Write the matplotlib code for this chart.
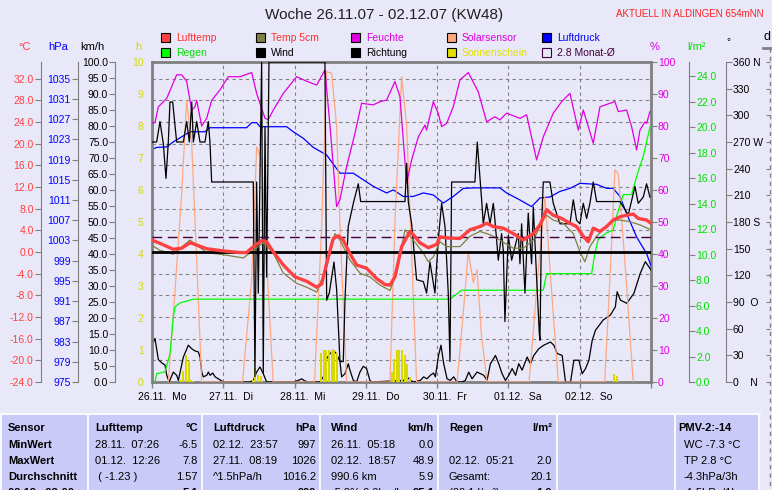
import matplotlib
matplotlib.use("Agg")
import matplotlib.pyplot as plt
import matplotlib.transforms as mtransforms
from matplotlib.patches import Rectangle
from matplotlib.lines import Line2D

plt.rcParams['font.family'] = ['Liberation Sans', 'DejaVu Sans']

BG = '#E8E8F8'
TABLE_BG = '#CACAF8'
GRAY = '#808080'
RED = '#FF4040'
OLIVE = '#808040'
MAGENTA = '#E000E0'
SALMON = '#FFA880'
BLUE = '#0000FF'
GREEN = '#00E000'
YELLOW = '#D8D800'
PURPLE = '#400040'

# ---- data, x = days since 26.11.07 00:00 ----
day_labels = ['26.11.  Mo', '27.11.  Di', '28.11.  Mi', '29.11.  Do',
              '30.11.  Fr', '01.12.  Sa', '02.12.  So']

temp_t = [0.0, 0.112, 0.299, 0.416, 0.533, 0.603, 0.767, 1.0, 1.234, 1.328, 1.421, 1.538, 1.608,
          1.702, 1.842, 2.006, 2.169, 2.31, 2.38, 2.45, 2.543, 2.613, 2.683, 2.777, 2.87, 3.011,
          3.151, 3.268, 3.338, 3.408, 3.502, 3.619, 3.665, 3.759, 3.876, 3.993, 4.04, 4.133, 4.32,
          4.46, 4.6, 4.694, 4.788, 4.928, 5.068, 5.208, 5.349, 5.442, 5.535, 5.629, 5.746, 5.863,
          5.956, 6.05, 6.12, 6.19, 6.284, 6.377, 6.47, 6.564, 6.658, 6.751, 6.821, 6.938, 7.0]
temp_v = [2.2, 1.6, 0.5, 0.7, 1.7, 1.4, 0.6, 0.2, -0.1, -0.1, 1.0, 2.1, 1.9, 0.0, -2.4, -4.6,
          -5.4, -6.5, -5.9, -2.1, 2.5, 3.0, 2.2, -0.3, -2.4, -3.0, -4.9, -6.0, -6.1, -4.6, 1.0,
          3.8, 3.2, 1.7, 0.8, 1.4, 2.8, 2.6, 2.5, 4.1, 4.7, 5.3, 4.7, 4.4, 3.4, 2.2, 3.4, 5.0,
          7.8, 6.8, 6.2, 5.3, 4.7, 2.9, 1.9, 4.4, 3.8, 4.7, 5.9, 6.5, 6.8, 7.0, 6.2, 5.9, 5.3]

temp5_t = [0.0, 0.112, 0.299, 0.533, 0.767, 1.0, 1.281, 1.421, 1.561, 1.702, 1.842, 2.029, 2.169,
           2.31, 2.45, 2.567, 2.637, 2.777, 2.917, 3.057, 3.198, 3.338, 3.432, 3.549, 3.665, 3.806,
           3.876, 3.946, 4.04, 4.133, 4.32, 4.46, 4.6, 4.741, 4.881, 5.068, 5.208, 5.349, 5.489,
           5.535, 5.629, 5.77, 5.91, 6.003, 6.073, 6.143, 6.237, 6.377, 6.47, 6.564, 6.704, 6.845, 7.0]
temp5_v = [1.2, 0.3, -0.4, 2.2, -0.1, -0.5, -1.1, 0.3, 1.7, -0.2, -3.9, -5.8, -6.5, -7.4, -2.8,
           3.4, 2.2, -1.5, -3.9, -4.6, -6.1, -7.1, -3.9, 4.1, 2.2, -0.2, -1.8, -0.9, 1.9, 1.0,
           1.0, 2.9, 3.8, 3.2, 2.2, 0.7, 0.7, 2.2, 5.9, 6.8, 5.9, 5.3, 3.4, 0.0, -1.8, 1.0, 2.9,
           4.7, 5.9, 5.9, 5.6, 5.0, 4.1]

month_avg = [2.8]

hum_t = [0.0, 0.042, 0.089, 0.206, 0.346, 0.416, 0.486, 0.557, 0.603, 0.627, 0.697, 0.767, 0.837,
         0.954, 1.07, 1.234, 1.398, 1.468, 1.585, 1.631, 1.702, 1.842, 2.029, 2.169, 2.31, 2.426,
         2.497, 2.59, 2.637, 2.73, 2.847, 2.94, 3.104, 3.198, 3.291, 3.408, 3.478, 3.572, 3.642,
         3.736, 3.829, 3.852, 3.946, 4.016, 4.063, 4.133, 4.226, 4.32, 4.437, 4.577, 4.694, 4.811,
         4.881, 4.974, 5.162, 5.255, 5.395, 5.489, 5.629, 5.746, 5.863, 5.98, 6.05, 6.19, 6.284,
         6.424, 6.494, 6.541, 6.658, 6.728, 6.798, 6.845, 6.915, 6.938, 6.985]
hum_v = [81, 81, 86, 88.6, 96, 96, 94, 85, 86, 88, 80, 82.4, 88, 91.3, 95.4, 95.4, 96.7, 90.2,
         82.4, 82, 85, 90.2, 95.4, 94, 92.8, 97.5, 80, 54.8, 57, 67.3, 77.7, 87.1, 86.6, 87.6,
         88.1, 93.9, 89.2, 62.1, 69.4, 76.6, 80.3, 78.7, 87.6, 83.9, 79.8, 80.8, 86, 94.4, 96.7,
         90.7, 81.3, 82.9, 81.9, 84, 82.4, 83.5, 69.4, 76.6, 84, 87.6, 90.2, 78.7, 85, 74.6, 86,
         87.1, 87.6, 84.5, 85, 79.8, 72.5, 78.7, 81.3, 80.8, 84.5]

solar_t = [0.229, 0.323, 0.416, 0.486, 0.557, 0.627, 0.697,
           1.27, 1.398, 1.468, 1.538, 1.608, 1.70,
           2.28, 2.38, 2.45, 2.52, 2.59, 2.637, 2.73,
           3.338, 3.408, 3.502, 3.572, 3.642, 3.712,
           4.28, 4.36, 4.437, 4.507, 4.56, 4.62, 4.70,
           5.29, 5.40, 5.512, 5.60, 5.70,
           6.35, 6.43, 6.494, 6.541, 6.658, 6.75]
solar_v = [0, 28.7, 58.8, 88, 74.5, 38, 0,
           0, 32, 73.5, 69.4, 38, 0,
           0, 48.5, 97, 96.5, 79.8, 48.5, 0,
           0, 50, 95.4, 80, 40, 0,
           0, 20, 40.7, 31, 35, 15, 0,
           0, 30, 58, 30, 0,
           0, 35, 66.3, 65, 30, 0]

press_t = [0.0, 0.065, 0.206, 0.299, 0.416, 0.533, 0.743, 0.813, 1.328, 1.398, 1.468, 1.515,
           1.889, 1.982, 2.123, 2.263, 2.45, 2.637, 2.824, 2.964, 3.104, 3.291, 3.385, 3.525,
           3.665, 3.806, 3.946, 4.086, 4.226, 4.367, 4.507, 4.881, 4.974, 5.162, 5.325, 5.442,
           5.582, 5.723, 5.863, 6.003, 6.237, 6.377, 6.47, 6.564, 6.658, 6.798, 6.938, 7.0]
press_v = [1021.0, 1021.4, 1021.5, 1022.5, 1023.5, 1024.5, 1024.5, 1025.3, 1025.3, 1026.3,
           1026.3, 1025.5, 1025.5, 1024.5, 1023.2, 1021.4, 1019.9, 1016.3, 1016.3, 1015.0,
           1013.7, 1012.4, 1013.0, 1011.7, 1011.7, 1012.4, 1012.0, 1010.4, 1011.7, 1013.3,
           1013.4, 1013.4, 1012.4, 1011.0, 1009.7, 1011.4, 1011.6, 1012.7, 1013.3, 1014.3,
           1014.1, 1013.3, 1013.3, 1011.7, 1008.3, 1003.7, 1000.4, 998.0]

rain_t = [0.042, 0.065, 0.182, 0.252, 0.299, 0.323, 0.393, 0.58, 4.18, 4.343, 5.489, 5.535,
          6.167, 6.213, 6.26, 6.377, 6.47, 6.517, 6.611, 6.728, 6.798, 6.891, 6.985]
rain_v = [0, 0.65, 0.8, 2.2, 5.1, 5.9, 6.2, 6.5, 6.5, 7.2, 7.2, 8.5, 8.5, 10.1, 11.2, 11.7,
          11.9, 13.0, 14.7, 14.7, 16.1, 17.7, 20.0]

wind_t = [0, 0.042, 0.089, 0.136, 0.182, 0.206, 0.24, 0.299, 0.346, 0.37, 0.44, 0.51, 0.557,
          0.604, 0.65, 0.674, 0.698, 0.72, 0.768, 0.79, 0.815, 0.852, 0.885, 0.93, 1.0,
          1.374, 1.421, 1.468, 1.514, 1.561, 1.608,
          1.982, 2.052, 2.1, 2.146, 2.193, 2.356, 2.403, 2.45, 2.497, 2.543, 2.59, 2.637, 2.66,
          2.707, 2.754, 2.777, 2.824, 2.87, 2.917, 2.964, 3.01, 3.057, 3.08,
          3.53, 3.577, 3.624, 3.67, 3.764, 3.81, 3.857, 3.904, 3.95, 3.975, 4.02, 4.054, 4.092,
          4.139, 4.185, 4.232, 4.279, 4.35, 4.396, 4.443, 4.49, 4.56, 4.607, 4.654, 4.7, 4.747,
          4.818, 4.864, 4.911, 4.958, 5.005, 5.052, 5.1, 5.145, 5.192, 5.262, 5.309, 5.356,
          5.426, 5.496, 5.543, 5.59, 5.637, 5.684, 5.754, 5.801, 5.871, 5.918, 5.988, 6.035,
          6.082, 6.129, 6.175, 6.222, 6.33, 6.43, 6.5, 6.525, 6.57, 6.66, 6.76, 6.85, 6.92,
          6.97, 7.0]
wind_v = [11.6, 13.6, 7.0, 6.0, 5.3, 2.2, 0, 3.1, 2.1, 0.5, 7.8, 11.5, 10.4, 9.7, 9.4, 7.8, 3.1,
          1.6, 2.1, 3.1, 2.1, 2.8, 1.6, 1.0, 0,
          0, 0.5, 3.1, 4.7, 2.6, 0,
          0, 0.5, 1.0, 0.3, 0, 0, 1.6, 7.3, 8.8, 9.9, 8.8, 6.3, 1.6, 2.6, 5.7, 3.7, 0.5, 0, 3.1,
          4.9, 4.2, 0.5, 0,
          0.5, 1.6, 0.5, 0, 0.5, 1.6, 1.0, 2.1, 2.8, 1.6, 8.3, 11.5, 5.7, 1.0, 0.5, 1.6, 0, 0,
          0.5, 3.1, 1.0, 3.1, 2.6, 2.1, 0.5, 5.7, 8.3, 5.7, 2.6, 0.5, 2.1, 4.2, 2.1, 5.7, 3.7,
          7.8, 5.7, 8.3, 10.4, 11.5, 12.0, 12.5, 11.5, 8.9, 8.3, 0, 0, 6.8, 6.8, 2.6, 4.2, 6.8,
          13.0, 16.2, 19.4, 20.9, 23.5, 28.2, 25.6, 24.6, 27.7, 34, 37.6, 36, 35]

dir_t = [0.0, 0.065, 0.112, 0.159, 0.196, 0.229, 0.252, 0.29, 0.346, 0.44, 0.486, 0.524, 0.557,
         0.58, 0.627, 0.673, 0.743, 0.79, 0.813, 0.837, 1.421, 1.444, 1.468, 1.491, 1.538, 1.561,
         1.585, 1.608, 1.641, 2.426, 2.45, 2.487, 2.553, 2.59, 2.637, 2.683, 2.707, 2.753, 2.824,
         2.894, 2.927, 3.549, 3.572, 3.595, 3.642, 3.712, 3.806, 3.852, 3.899, 3.969, 4.016,
         4.063, 4.11, 4.156, 4.18, 4.203, 4.53, 4.563, 4.624, 4.647, 4.694, 4.741, 4.788, 4.811,
         4.858, 4.904, 4.928, 4.951, 4.998, 5.045, 5.091, 5.138, 5.162, 5.185, 5.232, 5.278,
         5.325, 5.349, 5.395, 5.433, 5.442, 5.465, 5.489, 5.582, 5.629, 5.723, 5.863, 5.91,
         5.956, 6.003, 6.05, 6.097, 6.143, 6.19, 6.237, 6.564, 6.611, 6.681, 6.775, 6.821,
         6.891, 6.938, 6.985]
dir_v = [270, 270, 293, 268, 229, 270, 315, 315, 270, 270, 293, 270, 315, 270, 293, 270, 270,
         293, 270, 225, 225, 6, 225, 100, 360, 10, 287, 118, 360, 360, 92, 100, 135, 104, 23, 23,
         92, 175, 201, 223, 203, 203, 246, 203, 178, 115, 113, 100, 135, 100, 160, 201, 175, 100,
         23, 225, 225, 270, 205, 178, 201, 178, 201, 182, 137, 167, 148, 68, 165, 137, 152, 167,
         133, 178, 100, 190, 133, 197, 118, 55, 47, 178, 225, 225, 201, 178, 178, 205, 182, 178,
         201, 184, 201, 225, 203, 203, 197, 188, 220, 201, 208, 223, 208]

sun_t = [0.403, 0.439, 0.477, 0.515, 0.551, 0.579,
         1.412, 1.449, 1.487, 1.525,
         2.37, 2.408, 2.445, 2.483, 2.52, 2.557, 2.595,
         3.362, 3.394, 3.432, 3.469, 3.506, 3.544, 3.581, 3.619,
         6.484, 6.526]
sun_h = [0.05, 0.34, 0.83, 0.65, 0.07, 0.04,
         0.05, 0.44, 0.21, 0.18,
         0.91, 0.99, 0.99, 0.99, 0.99, 0.99, 0.91,
         0.3, 0.73, 0.99, 0.99, 0.99, 0.83, 0.57, 0.16,
         0.24, 0.18]

# ---- layout helpers (pixel -> figure fraction) ----
W_PX, H_PX = 772, 490
def fx(x):
    return x / W_PX
def fy(y):
    return 1 - y / H_PX

fig = plt.figure(figsize=(7.72, 4.90), dpi=100, facecolor=BG)
ax = fig.add_axes([fx(152), fy(382), 499 / W_PX, 320 / H_PX], facecolor=BG)
ax.set_xlim(0, 7)

# base axis = °C scale, carries the grid
ax.set_ylim(-24, 35.08)
ax.set_yticks(range(-24, 33, 4))
ax.set_yticklabels(['%.1f' % v for v in range(-24, 33, 4)])
ax.spines['left'].set_position(('axes', -0.223))
ax.spines['left'].set_color(GRAY)
for s in ['top', 'bottom', 'right']:
    ax.spines[s].set_color(GRAY)
    ax.spines[s].set_linewidth(2)
ax.tick_params(axis='y', colors=GRAY, labelcolor=RED, length=4, pad=1, labelsize=7.5)
ax.set_xticks(range(8))
ax.set_xticklabels([])
ax.tick_params(axis='x', colors=GRAY, length=4, width=1)
ax.grid(True, color=GRAY, linestyle=(0, (3, 3)), linewidth=0.8)


def scale_axis(side, pos, lim, ticks, labels, color, show_spine=True, length=4, pad=1):
    a = ax.twinx()
    a.set_ylim(*lim)
    for s in a.spines.values():
        s.set_visible(False)
    sp = a.spines[side]
    sp.set_position(('axes', pos))
    sp.set_visible(show_spine)
    sp.set_color(GRAY)
    if side == 'left':
        a.yaxis.tick_left()
    else:
        a.yaxis.tick_right()
    a.set_yticks(ticks)
    a.set_yticklabels(labels)
    a.tick_params(axis='y', colors=GRAY, labelcolor=color, length=length, pad=pad, labelsize=7.5)
    return a


ax_hpa = scale_axis('left', -0.149, (975, 1038.3), list(range(975, 1036, 4)),
                    [str(v) for v in range(975, 1036, 4)], BLUE)
ax_kmh = scale_axis('left', -0.0741, (0, 100), list(range(0, 101, 5)),
                    ['%.1f' % v for v in range(0, 101, 5)], 'black')
ax_h = scale_axis('left', 0.0, (0, 10), list(range(0, 11)), [str(v) for v in range(11)],
                  YELLOW, length=0, pad=6)
ax_h.spines['left'].set_linewidth(2)
ax_pct = scale_axis('right', 1.0, (0, 100), list(range(0, 101, 10)),
                    [str(v) for v in range(0, 101, 10)], MAGENTA, show_spine=False)
ax_rain = scale_axis('right', 1.0762, (0, 25.1), list(range(0, 25, 2)),
                     ['%.1f' % v for v in range(0, 25, 2)], GREEN)
dir_labels = ['0    N', '30', '60', '90  O', '120', '150', '180 S', '210', '240', '270 W',
              '300', '330', '360 N']
ax_dir = scale_axis('right', 1.1503, (0, 360), list(range(0, 361, 30)), dir_labels, 'black')
ax_d = scale_axis('right', 1.2385, (0, 12), list(range(0, 13)), [''] * 13, 'black',
                  show_spine=False, length=3)
ax_d.tick_params(axis='y', direction='in')
ax_temp = ax.twinx()
ax_temp.set_ylim(-24, 35.08)
ax_temp.axis('off')

# ---- series ----
ax_pct.plot(solar_t, solar_v, color=SALMON, lw=0.9)
ax_h.bar(sun_t, sun_h, width=0.026, color=YELLOW, linewidth=0)
ax_rain.plot(rain_t, rain_v, color='#00FF00', lw=0.9)
ax_hpa.plot(press_t, press_v, color=BLUE, lw=0.9)
ax_pct.plot(hum_t, hum_v, color=MAGENTA, lw=0.9)
ax_kmh.plot(wind_t, wind_v, color='black', lw=0.9)
ax_dir.plot(dir_t, dir_v, color='black', lw=0.9)
ax_temp.plot(temp5_t, temp5_v, color=OLIVE, lw=0.9)
ax_temp.axhline(month_avg[0], color=PURPLE, lw=1, dashes=(7, 4))
ax_temp.axhline(0, color='black', lw=2)
ax_temp.plot(temp_t, temp_v, color=RED, lw=2.4)

# date labels under the plot
trans = mtransforms.blended_transform_factory(ax.transData, fig.transFigure)
for i, lab in enumerate(day_labels):
    ax.text(i - 0.2, fy(397), lab, transform=trans, ha='left', va='center', fontsize=7.5,
            color='black')

# ---- titles, units ----
fig.text(fx(384), fy(15), 'Woche 26.11.07 - 02.12.07 (KW48)', ha='center', va='center',
         fontsize=11, color='#202020')
fig.text(fx(763), fy(14), 'AKTUELL IN ALDINGEN 654mNN', ha='right', va='center', fontsize=7,
         color='#FF2020')
units = [(25, '°C', RED), (58, 'hPa', BLUE), (92, 'km/h', 'black'), (138, 'h', YELLOW),
         (655, '%', MAGENTA), (696, 'l/m²', GREEN)]
for x, txt, col in units:
    fig.text(fx(x), fy(47), txt, ha='center', va='center', fontsize=8, color=col)
fig.text(fx(728), fy(42), '°', ha='center', va='center', fontsize=7, color='black')
fig.text(fx(767), fy(37), 'd', ha='center', va='center', fontsize=9, color='black')
fig.add_artist(Line2D([fx(770), fx(770)], [fy(48), 0], color=GRAY, lw=1, dashes=(3, 3)))
fig.add_artist(Line2D([fx(763), fx(772)], [fy(48), fy(48)], color=GRAY, lw=2))

# ---- legend ----
leg_labels = ['Lufttemp', 'Regen', 'Temp 5cm', 'Wind', 'Feuchte', 'Richtung', 'Solarsensor',
              'Sonnenschein', 'Luftdruck', '2.8 Monat-Ø']
leg_fill = [RED, '#00FF00', OLIVE, 'black', MAGENTA, 'black', SALMON, '#E0E000', BLUE, BG]
leg_text = ['#FF3030', '#00E000', '#FF3030', 'black', MAGENTA, 'black', MAGENTA, '#E0E000',
            BLUE, PURPLE]
for i, lab in enumerate(leg_labels):
    c, r = divmod(i, 2)
    x0 = 161 + 95.2 * c
    yc = 38 + 14.5 * r
    fig.add_artist(Rectangle((fx(x0), fy(yc + 4.5)), 9 / W_PX, 9 / H_PX,
                             transform=fig.transFigure, facecolor=leg_fill[i],
                             edgecolor=PURPLE if i == 9 else 'black', lw=0.8))
    fig.text(fx(x0 + 15), fy(yc), lab, ha='left', va='center', fontsize=7.5, color=leg_text[i])

# ---- table ----
fig.add_artist(Rectangle((0, 0), fx(760), fy(414), transform=fig.transFigure,
                         facecolor=TABLE_BG, edgecolor='none'))
fig.add_artist(Line2D([0, fx(760)], [fy(414), fy(414)], color='#F8F8FF', lw=1.5))
for xl in [1, 88, 202, 320, 438, 557, 675, 759]:
    fig.add_artist(Line2D([fx(xl), fx(xl)], [0, fy(414)], color='#F8F8FF', lw=1.5))

row_y = [428, 444.5, 460.5, 476.5, 492.5]
sensor_col = ['Sensor', 'MinWert', 'MaxWert', 'Durchschnitt', '02.12.  23:00']
lt_left = ['Lufttemp', '28.11.  07:26', '01.12.  12:26', ' ( -1.23 )', '']
lt_right = ['°C', '-6.5', '7.8', '1.57', '5.1']
ld_left = ['Luftdruck', '02.12.  23:57', '27.11.  08:19', '^1.5hPa/h', '']
ld_right = ['hPa', '997', '1026', '1016.2', '999']
wi_left = ['Wind', '26.11.  05:18', '02.12.  18:57', '990.6 km', '-5.8% 0.0km/h']
wi_right = ['km/h', '0.0', '48.9', '5.9', '25.1']
re_left = ['Regen', '', '02.12.  05:21', 'Gesamt:', '(20.1 l/m²)']
re_right = ['l/m²', '', '2.0', '20.1', '1.0']
pmv_col = ['PMV-2:-14', 'WC -7.3 °C', 'TP 2.8 °C', '-4.3hPa/3h', '-1.5hPa/1h']

for j, y in enumerate(row_y):
    fig.text(fx(8), fy(y), sensor_col[j], ha='left', va='center', fontsize=8,
             fontweight='bold')
    for xl, xr, left, right in [(95, 198, lt_left, lt_right), (213, 316, ld_left, ld_right),
                                (331, 434, wi_left, wi_right), (449, 552, re_left, re_right)]:
        fig.text(fx(xl), fy(y), left[j], ha='left', va='center', fontsize=8,
                 fontweight='bold' if j == 0 else 'normal')
        fig.text(fx(xr), fy(y), right[j], ha='right', va='center', fontsize=8,
                 fontweight='bold' if j in (0, 4) else 'normal')
    fig.text(fx(678 if j == 0 else 684), fy(y), pmv_col[j], ha='left', va='center', fontsize=8,
             fontweight='bold' if j == 0 else 'normal')

fig.savefig('out.png', dpi=100, facecolor=BG)
